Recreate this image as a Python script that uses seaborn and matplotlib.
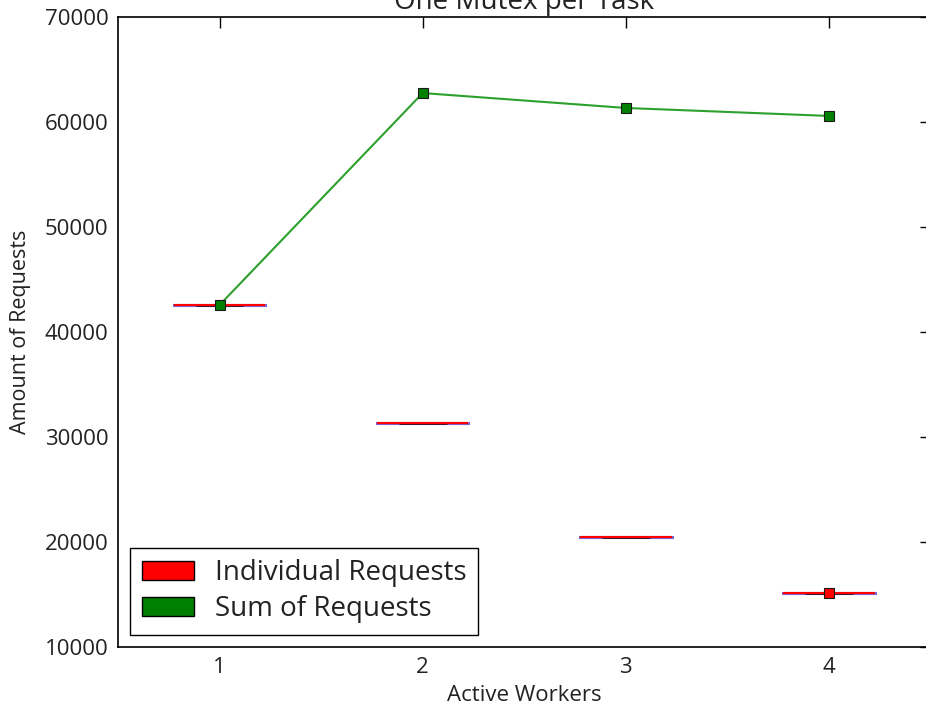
import numpy as np
import pandas as pd
import matplotlib
matplotlib.use("Agg")
import matplotlib.pyplot as plt
from matplotlib.patches import Patch
import seaborn as sns

# Requests handled by each worker, grouped by number of active workers
workers = [1, 2, 3, 4]
individual_1 = [42570]
individual_2 = [31380, 31380]
individual_3 = [20440, 20450, 20450]
individual_4 = [15140, 15140, 15150, 15150]
sum_requests = [42570, 62760, 61340, 60580]

title = "One Mutex per Task"
x_label = "Active Workers"
y_label = "Amount of Requests"
legend_labels = ["Individual Requests", "Sum of Requests"]

sns.set_style("white")
plt.rcParams["font.family"] = ["Open Sans", "DejaVu Sans"]

groups = [individual_1, individual_2, individual_3, individual_4]
long_df = pd.DataFrame({
    "workers": np.concatenate([[w] * len(g) for w, g in zip(workers, groups)]),
    "requests": np.concatenate(groups),
})
sum_df = pd.DataFrame({"workers": workers, "requests": sum_requests})

fig = plt.figure(figsize=(9.26, 7.10), dpi=100)
ax = fig.add_axes([0.1274, 0.0887, 0.8775, 0.8873])

sns.boxplot(
    data=long_df, x="workers", y="requests", native_scale=True,
    width=0.45, fill=False, linewidth=2.2, ax=ax,
    boxprops=dict(color="#5a3cc8", alpha=0.8),
    whiskerprops=dict(color="#0000ff", linestyle="--"),
    capprops=dict(color="#3a1a3a", linewidth=2.0),
    medianprops=dict(color="red", linewidth=1.5),
    flierprops=dict(marker="+", markeredgecolor="#0000ff"),
)

sns.lineplot(
    data=sum_df, x="workers", y="requests", ax=ax, color="#2ca02c",
    linewidth=1.5, marker="s", markersize=7.5, markerfacecolor="#008000",
    markeredgecolor="#1a1a1a", markeredgewidth=0.8, zorder=5,
)

last = pd.DataFrame({"workers": [workers[-1]],
                     "requests": [np.mean(individual_4)]})
sns.scatterplot(
    data=last, x="workers", y="requests", ax=ax, marker="s", s=60,
    color="red", edgecolor="#1a1a1a", linewidth=0.8, zorder=6, legend=False,
)

ax.set_xlim(0.5, 4.5)
ax.set_ylim(10000, 70000)
ax.set_xticks(workers)
ax.set_xticklabels([str(w) for w in workers])
ax.set_yticks(np.arange(10000, 70001, 10000))
ax.tick_params(direction="in", length=8, width=1, top=True, right=True,
               labelsize=16, pad=7, colors="black", labelcolor="#222222")
for s in ax.spines.values():
    s.set_color("black")
    s.set_linewidth(1.2)

ax.set_xlabel(x_label, fontsize=16, color="#222222", labelpad=5)
ax.set_ylabel(y_label, fontsize=15.5, color="#222222", labelpad=10)
ax.set_title(title, fontsize=20, color="#222222", pad=6)

handles = [Patch(facecolor="red", edgecolor="black", label=legend_labels[0]),
           Patch(facecolor="green", edgecolor="black", label=legend_labels[1])]
leg = ax.legend(handles=handles, loc="lower left", fontsize=20, frameon=True,
                fancybox=False, framealpha=1, borderaxespad=0.45,
                handlelength=1.9, handleheight=0.7, handletextpad=0.75,
                borderpad=0.4, labelspacing=0.3)
leg.get_frame().set_edgecolor("black")
leg.get_frame().set_linewidth(1.0)
for t in leg.get_texts():
    t.set_color("#222222")

fig.savefig("out.png", dpi=100)
